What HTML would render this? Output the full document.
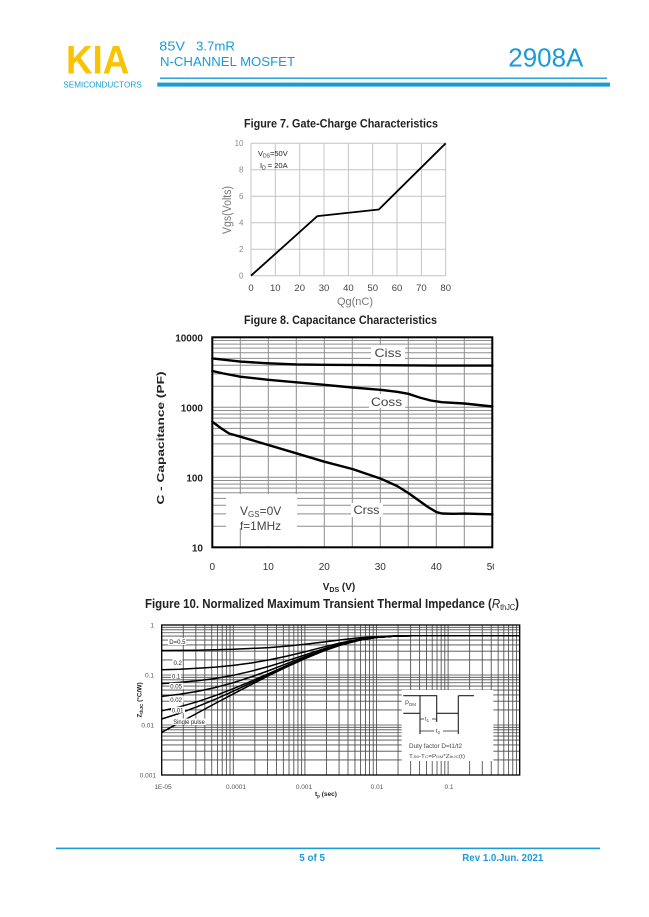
<!DOCTYPE html>
<html>
<head>
<meta charset="utf-8">
<style>
html,body{margin:0;padding:0;background:#fff;}
svg{display:block;}
text{font-family:"Liberation Sans",sans-serif;}
</style>
</head>
<body>
<svg width="649" height="917" viewBox="0 0 649 917" xmlns="http://www.w3.org/2000/svg">
<rect width="649" height="917" fill="#fff"/>

<!-- HEADER -->
<text x="66" y="73.3" font-size="40" font-weight="bold" fill="#f8c300" textLength="63.3" lengthAdjust="spacingAndGlyphs">KIA</text>
<text x="63.3" y="87.3" font-size="8" fill="#1a9bd7" textLength="78.4" lengthAdjust="spacingAndGlyphs">SEMICONDUCTORS</text>
<text x="159.3" y="50.7" font-size="12.5" fill="#1a9bd7" textLength="25.7" lengthAdjust="spacingAndGlyphs">85V</text>
<text x="196" y="50.7" font-size="12.5" fill="#1a9bd7" textLength="39" lengthAdjust="spacingAndGlyphs">3.7mR</text>
<text x="160" y="66" font-size="13" fill="#1a9bd7" textLength="135" lengthAdjust="spacingAndGlyphs">N-CHANNEL MOSFET</text>
<text x="508.3" y="66.7" font-size="26" fill="#1a9bd7" textLength="75" lengthAdjust="spacingAndGlyphs">2908A</text>
<rect x="160" y="77.5" width="447" height="1.4" fill="#1a9bd7"/>
<rect x="157.3" y="82.6" width="452.7" height="4" fill="#1a9bd7"/>

<!-- FIGURE 7 -->
<text x="341" y="127.3" font-size="12" font-weight="bold" fill="#222" text-anchor="middle" textLength="194" lengthAdjust="spacingAndGlyphs">Figure 7. Gate-Charge Characteristics</text>
<g stroke="#c4c4c4" stroke-width="1" fill="none">
<path d="M251 143.3V275.7M275.3 143.3V275.7M299.7 143.3V275.7M324 143.3V275.7M348.4 143.3V275.7M372.7 143.3V275.7M397 143.3V275.7M421.4 143.3V275.7M445.7 143.3V275.7"/>
<path d="M251 143.3H445.7M251 169.8H445.7M251 196.3H445.7M251 222.7H445.7M251 249.2H445.7M251 275.7H445.7"/>
</g>
<polyline points="251,275.7 317.4,216.1 378.8,209.5 445.7,143.3" fill="none" stroke="#000" stroke-width="1.8" stroke-linejoin="round"/>
<g font-size="8" fill="#8a8a8a" text-anchor="end">
<text x="243.5" y="278.5">0</text>
<text x="243.5" y="252">2</text>
<text x="243.5" y="225.5">4</text>
<text x="243.5" y="199">6</text>
<text x="243.5" y="172.6">8</text>
<text x="243.5" y="146.1">10</text>
</g>
<g font-size="9.5" fill="#444" text-anchor="middle">
<text x="251" y="291">0</text>
<text x="275.3" y="291">10</text>
<text x="299.7" y="291">20</text>
<text x="324" y="291">30</text>
<text x="348.4" y="291">40</text>
<text x="372.7" y="291">50</text>
<text x="397" y="291">60</text>
<text x="421.4" y="291">70</text>
<text x="445.7" y="291">80</text>
</g>
<text x="355" y="305" font-size="11" fill="#777" text-anchor="middle">Qg(nC)</text>
<text transform="translate(231,210) rotate(-90)" font-size="11.5" fill="#777" text-anchor="middle" textLength="48" lengthAdjust="spacingAndGlyphs">Vgs(Volts)</text>
<text x="258" y="156" font-size="7.5" fill="#222">V<tspan font-size="5" dy="1.5">DS</tspan><tspan dy="-1.5">=50V</tspan></text>
<text x="260" y="168" font-size="7.5" fill="#222">I<tspan font-size="5" dy="1.5">D</tspan><tspan dy="-1.5"> = 20A</tspan></text>

<!-- FIGURE 8 -->
<text x="340.5" y="324" font-size="12" font-weight="bold" fill="#222" text-anchor="middle" textLength="193" lengthAdjust="spacingAndGlyphs">Figure 8. Capacitance Characteristics</text>
<g stroke="#8e8e8e" stroke-width="1" fill="none">
<path d="M240.3 337.3V547.3M268.3 337.3V547.3M296.3 337.3V547.3M324.3 337.3V547.3M352.3 337.3V547.3M380.3 337.3V547.3M408.3 337.3V547.3M436.3 337.3V547.3M464.3 337.3V547.3"/>
<path d="M212.3 526.2H492.3M212.3 513.9H492.3M212.3 505.2H492.3M212.3 498.4H492.3M212.3 492.8H492.3M212.3 488.1H492.3M212.3 484.1H492.3M212.3 480.5H492.3M212.3 477.3H492.3M212.3 456.2H492.3M212.3 443.9H492.3M212.3 435.2H492.3M212.3 428.4H492.3M212.3 422.8H492.3M212.3 418.1H492.3M212.3 414.1H492.3M212.3 410.5H492.3M212.3 407.3H492.3M212.3 386.2H492.3M212.3 373.9H492.3M212.3 365.2H492.3M212.3 358.4H492.3M212.3 352.8H492.3M212.3 348.1H492.3M212.3 344.1H492.3M212.3 340.5H492.3"/>
</g>
<!-- label backgrounds -->
<rect x="226" y="494" width="71" height="34" fill="#fff"/>
<rect x="244" y="527" width="53" height="19" fill="#fff"/>
<rect x="371" y="345" width="34" height="14" fill="#fff"/>
<rect x="369" y="394" width="36" height="14" fill="#fff"/>
<rect x="351" y="503" width="32" height="14" fill="#fff"/>
<g fill="none" stroke="#000" stroke-width="2.4" stroke-linejoin="round" stroke-linecap="round">
<polyline points="212.3,358.4 229.1,360.3 240.3,361.6 268.3,363.3 296.3,364.4 324.3,364.8 380.3,365.2 436.3,365.6 492.3,365.6"/>
<polyline points="212.3,371 223.5,373.5 240.3,376.7 268.3,379.8 296.3,382.3 324.3,384.8 352.3,387.5 380.3,389.8 397.1,391.8 408.3,393.8 419.5,397.5 430.7,400.5 441.9,402.2 464.3,403.5 492.3,406.5"/>
<polyline points="212.3,421.7 220.7,428 229.1,433.5 240.3,436.7 268.3,445 296.3,453.3 324.3,461.7 352.3,469 380.3,478.5 397.1,486 408.3,493 419.5,501 427.9,507 436.3,512 441.9,513.5 453.1,513.8 464.3,513.6 492.3,514.3"/>
</g>
<rect x="212.3" y="337.3" width="280" height="210" fill="none" stroke="#000" stroke-width="2"/>
<g font-size="12" fill="#444">
<text x="388" y="357" text-anchor="middle" textLength="27" lengthAdjust="spacingAndGlyphs">Ciss</text>
<text x="386.5" y="406" text-anchor="middle" textLength="31" lengthAdjust="spacingAndGlyphs">Coss</text>
<text x="366.5" y="514" text-anchor="middle" textLength="26" lengthAdjust="spacingAndGlyphs">Crss</text>
<text x="240" y="515">V<tspan font-size="8" dy="2">GS</tspan><tspan dy="-2">=0V</tspan></text>
<text x="240" y="530" textLength="41" lengthAdjust="spacingAndGlyphs">f=1MHz</text>
</g>
<g font-size="10" font-weight="bold" fill="#222" text-anchor="end">
<text x="203" y="341.5">10000</text>
<text x="203" y="411.5">1000</text>
<text x="203" y="481.5">100</text>
<text x="203" y="551.5">10</text>
</g>
<clipPath id="c8"><rect x="150" y="555" width="344" height="20"/></clipPath>
<g font-size="10" fill="#333" text-anchor="middle" clip-path="url(#c8)">
<text x="212.3" y="570">0</text>
<text x="268.3" y="570">10</text>
<text x="324.3" y="570">20</text>
<text x="380.3" y="570">30</text>
<text x="436.3" y="570">40</text>
<text x="492.3" y="570">50</text>
</g>
<text x="339" y="590" font-size="10" font-weight="bold" fill="#222" text-anchor="middle">V<tspan font-size="7" dy="2">DS</tspan><tspan dy="-2"> (V)</tspan></text>
<text transform="translate(164,438) rotate(-90)" font-size="10.5" font-weight="bold" fill="#222" text-anchor="middle" textLength="133" lengthAdjust="spacingAndGlyphs">C - Capacitance (PF)</text>

<!-- FIGURE 10 -->
<text x="145" y="608" font-size="12.5" font-weight="bold" fill="#222" textLength="374" lengthAdjust="spacingAndGlyphs">Figure 10. Normalized Maximum Transient Thermal Impedance (<tspan font-style="italic" font-weight="normal">R</tspan><tspan font-size="8" font-weight="normal" dy="2">thJC</tspan><tspan dy="-2">)</tspan></text>
<g stroke="#4a4a4a" stroke-width="0.85" fill="none">
<path d="M183.25 625V775M195.86 625V775M204.81 625V775M211.75 625V775M217.41 625V775M222.21 625V775M226.36 625V775M230.02 625V775M233.3 625V775M254.85 625V775M267.46 625V775M276.41 625V775M283.35 625V775M289.01 625V775M293.81 625V775M297.96 625V775M301.62 625V775M304.9 625V775M326.45 625V775M339.06 625V775M348.01 625V775M354.95 625V775M360.61 625V775M365.41 625V775M369.56 625V775M373.22 625V775M376.5 625V775M398.05 625V775M410.66 625V775M419.61 625V775M426.55 625V775M432.21 625V775M437.01 625V775M441.16 625V775M444.82 625V775M448.1 625V775M469.65 625V775M482.26 625V775M491.21 625V775M498.15 625V775M503.81 625V775M508.61 625V775M512.76 625V775M516.42 625V775"/>
<path d="M161.7 759.95H519.7M161.7 751.14H519.7M161.7 744.9H519.7M161.7 740.05H519.7M161.7 736.09H519.7M161.7 732.75H519.7M161.7 729.85H519.7M161.7 727.29H519.7M161.7 725H519.7M161.7 709.95H519.7M161.7 701.14H519.7M161.7 694.9H519.7M161.7 690.05H519.7M161.7 686.09H519.7M161.7 682.75H519.7M161.7 679.85H519.7M161.7 677.29H519.7M161.7 675H519.7M161.7 659.95H519.7M161.7 651.14H519.7M161.7 644.9H519.7M161.7 640.05H519.7M161.7 636.09H519.7M161.7 632.75H519.7M161.7 629.85H519.7M161.7 627.29H519.7"/>
</g>
<!-- inset -->
<rect x="401.7" y="690" width="91.6" height="71" fill="#fff"/>
<g fill="none" stroke="#000" stroke-width="1.5" stroke-linejoin="round">
<polyline points="161.7,732.3 179.6,722.6 197.5,713 215.4,703.4 233.3,693.9 251.2,684.6 269.1,675.5 287,666.8 304.9,658.7 322.8,651.3 340.7,645.1 358.6,640.4 376.5,637.4 394.4,636.1 412.3,635.8 448.1,635.7 519.7,635.7"/>
<polyline points="161.7,719 179.6,713.3 197.5,706.6 215.4,699.2 233.3,691.2 251.2,682.8 269.1,674.4 287,666.1 304.9,658.3 322.8,651.1 340.7,644.9 358.6,640.4 376.5,637.4 394.4,636.1 412.3,635.8 519.7,635.7"/>
<polyline points="161.7,710.8 179.6,706.8 197.5,701.7 215.4,695.6 233.3,688.7 251.2,681.2 269.1,673.4 287,665.4 304.9,657.9 322.8,650.8 340.7,644.8 358.6,640.3 376.5,637.4 394.4,636.1 412.3,635.8 519.7,635.7"/>
<polyline points="161.7,696.4 179.6,694.3 197.5,691.4 215.4,687.5 233.3,682.7 251.2,676.9 269.1,670.5 287,663.6 304.9,656.7 322.8,650.2 340.7,644.5 358.6,640.1 376.5,637.4 394.4,636.1 412.3,635.8 519.7,635.7"/>
<polyline points="161.7,683.6 179.6,682.4 197.5,680.8 215.4,678.5 233.3,675.3 251.2,671.2 269.1,666.4 287,660.8 304.9,655 322.8,649.1 340.7,643.9 358.6,639.9 376.5,637.3 394.4,636.1 412.3,635.8 519.7,635.7"/>
<polyline points="161.7,669.7 179.6,669.2 197.5,668.3 215.4,667.1 233.3,665.4 251.2,663 269.1,659.9 287,656.1 304.9,651.8 322.8,647.2 340.7,642.9 358.6,639.4 376.5,637.1 394.4,636.1 412.3,635.8 519.7,635.7"/>
<polyline points="161.7,650.5 197.5,650.2 233.3,649.3 269.1,647.6 287,646.1 304.9,644.3 322.8,642.1 340.7,639.9 358.6,637.9 376.5,636.6 394.4,635.9 412.3,635.8 519.7,635.7"/>
</g>
<rect x="161.7" y="625" width="358" height="150" fill="none" stroke="#000" stroke-width="1.3"/>
<!-- curve labels -->
<g fill="#fff">
<rect x="168" y="638" width="18" height="7"/>
<rect x="172.5" y="659.5" width="10" height="7"/>
<rect x="171" y="672.8" width="10" height="6.5"/>
<rect x="169.5" y="682.8" width="14" height="6.5"/>
<rect x="169.5" y="696" width="14" height="6.5"/>
<rect x="171" y="706.8" width="14" height="6.5"/>
<rect x="172.5" y="718.5" width="33" height="6.5"/>
</g>
<g font-size="6" fill="#222">
<text x="169.3" y="644">D=0.5</text>
<text x="173.5" y="665.2">0.2</text>
<text x="172" y="678.5">0.1</text>
<text x="170.3" y="688.5">0.05</text>
<text x="170.3" y="701.8">0.02</text>
<text x="171.8" y="712.5">0.01</text>
<text x="173.3" y="724.2" textLength="31.5" lengthAdjust="spacingAndGlyphs">Single pulse</text>
</g>
<!-- inset waveform -->
<g fill="none" stroke="#222" stroke-width="1.1">
<path d="M420 734V695.7H436.7V722M436.7 713.3H458.3V734M458.3 695.7V713.3M458.3 695.7H474"/>
<path d="M403.3 695.7H420M403.3 713.3H420"/>
<path d="M420 719H436.7M420 731H458.3" stroke-width="0.7"/>
</g>
<g font-size="6" fill="#444">
<text x="405" y="705">P<tspan font-size="4.5" dy="1">DM</tspan></text>
<rect x="424" y="715.5" width="8" height="6" fill="#fff"/>
<text x="425" y="721">t<tspan font-size="4.5" dy="1">1</tspan></text>
<rect x="434" y="727.5" width="9" height="6" fill="#fff"/>
<text x="436" y="733">t<tspan font-size="4.5" dy="1">2</tspan></text>
<text x="409" y="748" textLength="53" lengthAdjust="spacingAndGlyphs">Duty factor D=t1/t2</text>
<text x="409" y="758" font-size="5" textLength="56" lengthAdjust="spacingAndGlyphs">T<tspan font-size="3.5">JM</tspan>-T<tspan font-size="3.5">C</tspan>=P<tspan font-size="3.5">DM</tspan>*Z<tspan font-size="3.5">thJC</tspan>(t)</text>
</g>
<g font-size="6.5" fill="#555" text-anchor="end">
<text x="154" y="627.3">1</text>
<text x="154" y="677.3">0.1</text>
<text x="154" y="727.3">0.01</text>
<text x="156" y="777.3">0.001</text>
</g>
<g font-size="6.5" fill="#555" text-anchor="middle">
<text x="163" y="789">1E-05</text>
<text x="236" y="789">0.0001</text>
<text x="304" y="789">0.001</text>
<text x="377" y="789">0.01</text>
<text x="449" y="789">0.1</text>
</g>
<text x="315" y="796" font-size="6.5" font-weight="bold" fill="#222">t<tspan font-size="4.5" dy="1.5">p</tspan><tspan dy="-1.5"> (sec)</tspan></text>
<text transform="translate(141.5,700) rotate(-90)" font-size="6.5" font-weight="bold" fill="#222" text-anchor="middle">Z<tspan font-size="4.5" dy="1.5">thJC</tspan><tspan dy="-1.5"> (°C/W)</tspan></text>

<!-- FOOTER -->
<rect x="56" y="847.6" width="544" height="1.6" fill="#1a9bd7"/>
<text x="299.3" y="861" font-size="10" font-weight="bold" fill="#1a9bd7" textLength="25.7" lengthAdjust="spacingAndGlyphs">5 of 5</text>
<text x="462.3" y="861" font-size="10" font-weight="bold" fill="#1a9bd7" textLength="81" lengthAdjust="spacingAndGlyphs">Rev 1.0.Jun. 2021</text>
</svg>
</body>
</html>
